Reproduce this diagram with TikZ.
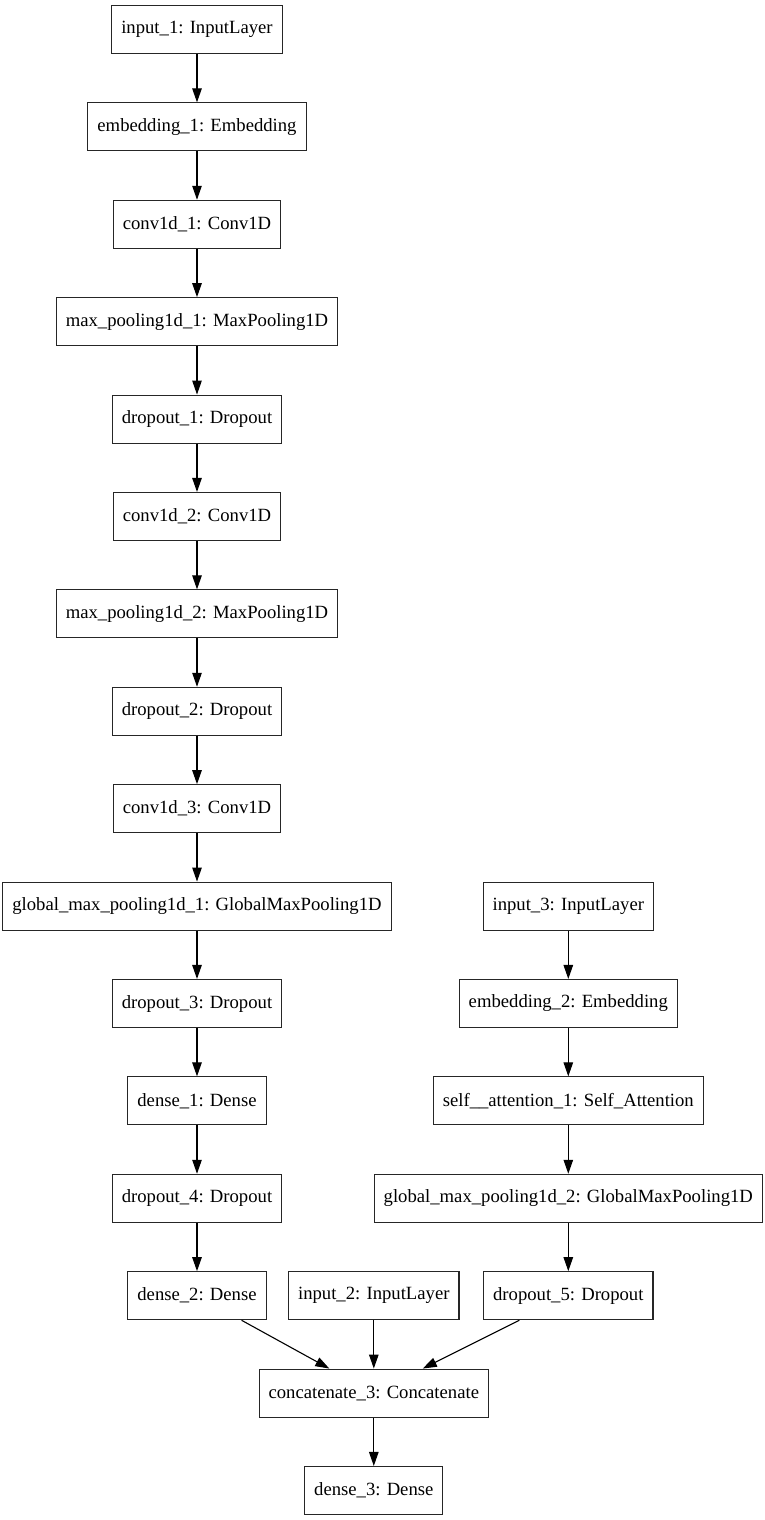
\documentclass[tikz,border=0pt]{standalone}
\usepackage{fontspec}
\setmainfont{Liberation Serif}
\usetikzlibrary{arrows.meta}
\begin{document}
\begin{tikzpicture}[
      x=1pt, y=-1pt,
      font=\fontsize{18.67}{22}\selectfont,
      layer box/.style={draw=black!85, line width=1.1pt, minimum height=48pt, inner xsep=9.5pt, inner ysep=0pt},
      flow arrow/.style={-{Triangle[length=14pt, width=9.5pt]}, line width=1.1pt},
  ]

  % Page size
  \useasboundingbox (0,0) rectangle (765,1520);

  % Left branch: text model, one layer per row
  \foreach \name/\row/\lbl in {
      in1/0/input\_1: InputLayer,
      emb1/1/embedding\_1: Embedding,
      conv1/2/conv1d\_1: Conv1D,
      pool1/3/max\_pooling1d\_1: MaxPooling1D,
      drop1/4/dropout\_1: Dropout,
      conv2/5/conv1d\_2: Conv1D,
      pool2/6/max\_pooling1d\_2: MaxPooling1D,
      drop2/7/dropout\_2: Dropout,
      conv3/8/conv1d\_3: Conv1D,
      gpool1/9/global\_max\_pooling1d\_1: GlobalMaxPooling1D,
      drop3/10/dropout\_3: Dropout,
      dense1/11/dense\_1: Dense,
      drop4/12/dropout\_4: Dropout,
      dense2/13/dense\_2: Dense
  } {
      % Row index -> vertical position
      \pgfmathsetmacro{\realY}{29.5 + 97.4*\row}
      \node[layer box] (\name) at (197, \realY) {\lbl};
  }

  % Right branch: attention model
  \foreach \name/\row/\lbl in {
      in3/9/input\_3: InputLayer,
      emb2/10/embedding\_2: Embedding,
      att1/11/self\_\_attention\_1: Self\_Attention,
      gpool2/12/global\_max\_pooling1d\_2: GlobalMaxPooling1D,
      drop5/13/dropout\_5: Dropout
  } {
      \pgfmathsetmacro{\realY}{29.5 + 97.4*\row}
      \node[layer box] (\name) at (568.3, \realY) {\lbl};
  }

  % Middle: extra input and the merged head
  \foreach \name/\row/\lbl in {
      in2/13/input\_2: InputLayer,
      concat3/14/concatenate\_3: Concatenate,
      dense3/15/dense\_3: Dense
  } {
      \pgfmathsetmacro{\realY}{29.5 + 97.4*\row}
      \node[layer box] (\name) at (373.8, \realY) {\lbl};
  }

  % Connections between layers
  \foreach \a/\b in {in1/emb1, emb1/conv1, conv1/pool1, pool1/drop1, drop1/conv2,
                     conv2/pool2, pool2/drop2, drop2/conv3, conv3/gpool1, gpool1/drop3,
                     drop3/dense1, dense1/drop4, drop4/dense2,
                     in3/emb2, emb2/att1, att1/gpool2, gpool2/drop5,
                     dense2/concat3, in2/concat3, drop5/concat3, concat3/dense3} {
      \draw[flow arrow] (\a) -- (\b);
  }

\end{tikzpicture}
\end{document}
